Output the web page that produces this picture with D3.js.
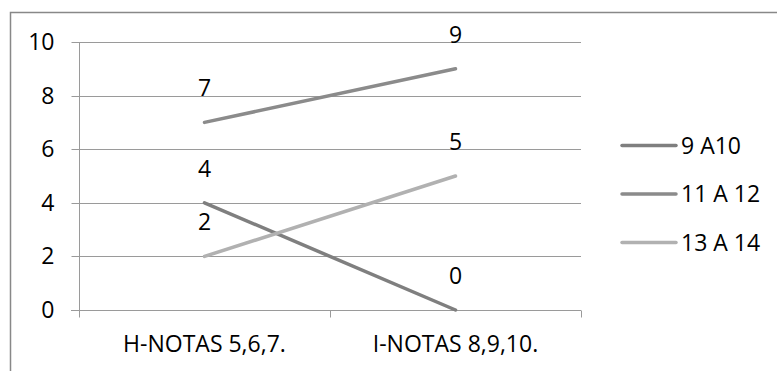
<!DOCTYPE html>
<html>
<head>
<meta charset="utf-8">
<script src="https://cdn.jsdelivr.net/npm/d3@7"></script>
<style>
  html, body { margin: 0; padding: 0; background: #fff; }
  svg { display: block; }
  text { font-family: "Open Sans", "Noto Sans", sans-serif; fill: #000; }
</style>
</head>
<body>
<svg id="chart" width="777" height="371"></svg>
<script>
// Categories along the x axis
const categories = ["H-NOTAS 5,6,7.", "I-NOTAS 8,9,10."];
// Series names (age groups)
const seriesNames = ["9 A10", "11 A 12", "13 A 14"];
// Values per series, one per category
const values9a10 = [4, 0];
const values11a12 = [7, 9];
const values13a14 = [2, 5];
// Y axis ticks
const yTicks = [0, 2, 4, 6, 8, 10];

const seriesColors = ["#7f7f7f", "#8b8b8b", "#b1b1b1"];
const seriesValues = [values9a10, values11a12, values13a14];

const svg = d3.select("#chart");
const fontSize = 23;

// Outer chart frame
svg.append("rect")
  .attr("x", 10.5).attr("y", 12.5)
  .attr("width", 900).attr("height", 500)
  .attr("fill", "none").attr("stroke", "#888").attr("stroke-width", 1.5);

const plot = { left: 79, right: 581, top: 42, bottom: 310 };

const x = d3.scaleBand().domain(categories).range([plot.left, plot.right]);
const y = d3.scaleLinear().domain([0, 10]).range([plot.bottom, plot.top]);

// Horizontal gridlines
svg.append("g").selectAll("line").data(yTicks.filter(t => t > 0)).join("line")
  .attr("x1", plot.left).attr("x2", plot.right)
  .attr("y1", d => Math.round(y(d)) + 0.5).attr("y2", d => Math.round(y(d)) + 0.5)
  .attr("stroke", "#9a9a9a").attr("stroke-width", 1);

// Y axis
const yAxis = svg.append("g")
  .attr("transform", `translate(${plot.left + 0.5},0)`)
  .call(d3.axisLeft(y).tickValues(yTicks).tickSize(8).tickPadding(17).tickFormat(d3.format("d")));
yAxis.select(".domain").attr("stroke", "#9a9a9a").attr("d", `M0,${plot.top}V${plot.bottom}`);
yAxis.selectAll(".tick line").attr("stroke", "#9a9a9a");
yAxis.selectAll(".tick text").attr("font-size", fontSize).attr("font-family", "'Open Sans', sans-serif").attr("fill", "#000");
yAxis.selectAll(".tick").attr("transform", d => `translate(0,${Math.round(y(d)) + 0.5})`);

// X axis with category boundary ticks
const xAxisG = svg.append("g").attr("transform", `translate(0,${plot.bottom + 0.5})`);
xAxisG.append("line")
  .attr("x1", plot.left - 8).attr("x2", plot.right)
  .attr("stroke", "#9a9a9a");
const boundaries = [plot.left, ...categories.map(c => x(c) + x.bandwidth())];
xAxisG.selectAll("line.bt").data(boundaries).join("line").attr("class", "bt")
  .attr("x1", d => Math.round(d) + 0.5).attr("x2", d => Math.round(d) + 0.5)
  .attr("y1", 0).attr("y2", 7)
  .attr("stroke", "#9a9a9a");
xAxisG.selectAll("text").data(categories).join("text")
  .attr("x", d => x(d) + x.bandwidth() / 2)
  .attr("y", 41)
  .attr("text-anchor", "middle")
  .attr("font-size", fontSize)
  .text(d => d);

// Series lines
const line = d3.line()
  .x((d, i) => x(categories[i]) + x.bandwidth() / 2)
  .y(d => y(d));

seriesValues.forEach((vals, si) => {
  svg.append("path")
    .datum(vals)
    .attr("d", line)
    .attr("fill", "none")
    .attr("stroke", seriesColors[si])
    .attr("stroke-width", 3.5)
    .attr("stroke-linecap", "round");
});

// Value labels above each point
seriesValues.forEach((vals, si) => {
  svg.append("g").selectAll("text").data(vals).join("text")
    .attr("x", (d, i) => x(categories[i]) + x.bandwidth() / 2)
    .attr("y", d => y(d) - 26)
    .attr("text-anchor", "middle")
    .attr("font-size", fontSize)
    .text(d => d);
});

// Legend
const legend = svg.append("g");
const legendY = [145.5, 194, 242.5];
seriesNames.forEach((name, i) => {
  legend.append("line")
    .attr("x1", 622).attr("x2", 676)
    .attr("y1", legendY[i]).attr("y2", legendY[i])
    .attr("stroke", seriesColors[i]).attr("stroke-width", 3.5)
    .attr("stroke-linecap", "round");
  legend.append("text")
    .attr("x", 681).attr("y", legendY[i])
    .attr("dy", "0.36em")
    .attr("font-size", fontSize)
    .text(name);
});
</script>
</body>
</html>
